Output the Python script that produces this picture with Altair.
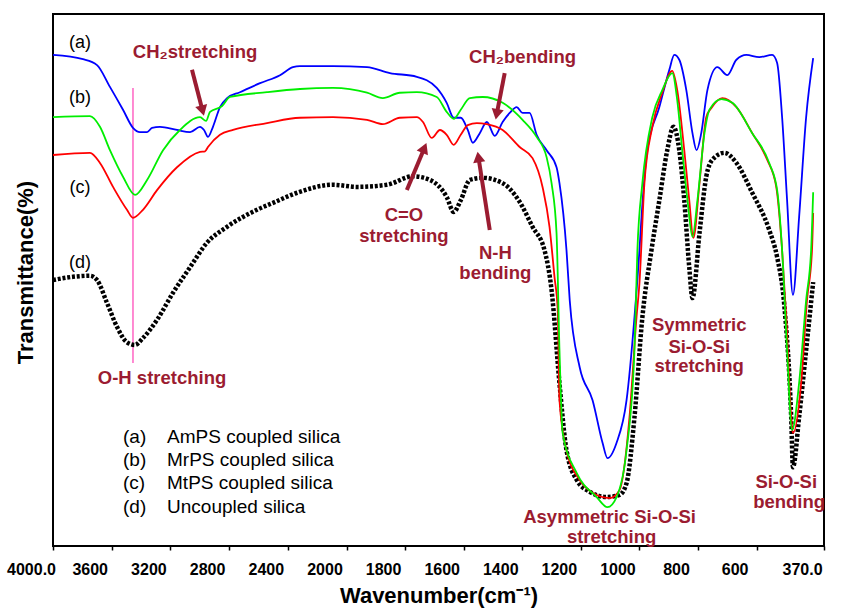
import altair as alt
import pandas as pd

# ---- FTIR spectra: wavenumber (cm-1) vs transmittance (%) ----
# (a) AmPS coupled silica
wn_a = [4000, 3796, 3700, 3612, 3523, 3455, 3407, 3359, 3325, 3271, 3155, 3066, 2998, 2971, 2944,
        2910, 2862, 2814, 2726, 2589, 2453, 2365, 2317, 2092, 1930, 1852, 1760, 1692, 1658, 1634,
        1610, 1586, 1569, 1545, 1521, 1494, 1467, 1443, 1419, 1399, 1375, 1351, 1317, 1283, 1273,
        1249, 1238, 1204, 1160, 1126, 1109, 1078, 1044, 1017, 1000, 993, 973, 932, 898, 881,
        864, 840, 819, 805, 789, 768, 734, 700, 669, 635, 591, 547, 530, 513, 496,
        476, 455, 431, 407]
t_a = [92.3, 91.5, 90.4, 86.3, 82.0, 78.6, 77.8, 77.8, 78.6, 78.8, 78.2, 77.8, 78.8, 78.2, 76.9,
       78.8, 82.5, 84.2, 85.3, 87.0, 88.5, 90.0, 90.2, 90.2, 90.0, 88.9, 88.2, 86.1, 83.3, 80.5,
       80.5, 78.2, 75.8, 77.6, 79.7, 77.1, 79.7, 81.4, 82.5, 81.4, 81.4, 77.3, 74.4, 71.2, 68.2,
       55.6, 46.2, 33.6, 27.4, 19.4, 16.5, 19.4, 27.4, 43.0, 55.6, 61.8, 74.4, 82.5, 89.5, 92.3,
       91.4, 85.7, 77.6, 74.4, 77.6, 85.7, 90.0, 88.5, 91.4, 92.3, 91.9, 92.3, 90.8, 80.6, 65.0,
       47.2, 61.8, 80.6, 91.7]

# (b) MrPS coupled silica
wn_b = [4000, 3748, 3680, 3612, 3523, 3441, 3359, 3250, 3135, 2998, 2957, 2930, 2848, 2794, 2542,
        2317, 2092, 1930, 1876, 1818, 1760, 1692, 1658, 1634, 1610, 1579, 1535, 1467, 1399, 1351,
        1317, 1300, 1283, 1273, 1262, 1214, 1146, 1109, 1078, 1044, 1017, 1007, 990, 956, 922,
        888, 871, 854, 836, 819, 802, 778, 761, 720, 683, 615, 557, 530, 513, 496,
        479, 455, 431, 414, 407]
t_b = [80.6, 80.8, 78.8, 74.4, 69.4, 66.0, 68.8, 74.4, 78.2, 80.6, 79.9, 81.6, 82.7, 84.4, 85.3,
       85.9, 86.1, 85.2, 84.2, 85.2, 85.3, 84.4, 81.6, 80.3, 82.0, 84.2, 84.4, 83.3, 80.1, 76.9,
       73.1, 68.2, 58.8, 36.8, 21.2, 13.7, 9.2, 7.3, 9.2, 18.0, 36.8, 55.6, 68.2, 80.6, 85.7,
       88.9, 83.8, 74.4, 65.0, 58.1, 65.0, 77.6, 82.0, 84.0, 83.3, 77.6, 72.0, 66.9, 55.6, 36.8,
       21.8, 30.6, 46.2, 55.6, 66.5]

# (c) MtPS coupled silica
wn_c = [4000, 3748, 3680, 3591, 3496, 3455, 3387, 3291, 3155, 2998, 2964, 2944, 2862, 2773, 2542,
        2317, 2092, 1930, 1876, 1818, 1760, 1739, 1709, 1681, 1658, 1634, 1610, 1586, 1555, 1521,
        1467, 1409, 1365, 1330, 1307, 1290, 1279, 1273, 1249, 1204, 1160, 1102, 1068, 1034, 1010,
        1000, 983, 956, 922, 888, 871, 847, 830, 816, 795, 772, 755, 717, 669, 615,
        564, 533, 513, 499, 482, 476, 448, 428, 411, 407]
t_c = [73.5, 73.9, 72.0, 67.5, 63.2, 61.7, 63.2, 66.9, 71.2, 74.1, 74.2, 75.0, 77.3, 78.2, 79.5,
       80.5, 80.6, 80.1, 79.3, 80.5, 80.6, 79.7, 76.7, 78.2, 77.3, 75.4, 77.3, 79.1, 79.5, 79.3,
       78.2, 75.0, 72.9, 67.3, 60.0, 50.6, 44.4, 27.4, 18.0, 12.4, 10.0, 9.0, 10.5, 24.2, 43.0,
       49.4, 68.2, 78.8, 85.2, 89.3, 85.7, 74.4, 65.0, 57.9, 68.2, 80.6, 82.3, 84.2, 82.5, 77.6,
       72.6, 67.5, 55.6, 43.0, 24.2, 21.2, 30.6, 46.2, 55.6, 62.6]

# (d) Uncoupled silica
wn_d = [4000, 3864, 3748, 3700, 3632, 3564, 3496, 3441, 3387, 3291, 3182, 3066, 2951, 2814, 2610,
        2501, 2337, 2092, 1964, 1862, 1773, 1715, 1658, 1634, 1610, 1579, 1535, 1467, 1409, 1365,
        1324, 1300, 1273, 1249, 1214, 1170, 1112, 1068, 1044, 1017, 990, 959, 932, 905, 884,
        864, 847, 830, 819, 795, 772, 751, 710, 669, 615, 557, 530, 506, 482, 476,
        455, 431, 407]
t_d = [50.0, 50.6, 50.8, 50.0, 45.7, 41.2, 38.3, 37.8, 39.1, 42.5, 47.6, 52.4, 57.0, 60.0, 63.2,
       64.5, 66.4, 67.9, 67.5, 67.9, 69.5, 68.8, 65.6, 62.8, 65.0, 68.8, 69.2, 68.2, 64.7, 60.0,
       55.6, 48.1, 30.6, 18.0, 12.4, 10.2, 9.2, 9.6, 11.8, 24.2, 43.0, 55.6, 65.0, 74.4, 78.8,
       74.4, 65.0, 52.4, 46.6, 58.8, 69.4, 72.6, 73.9, 72.0, 66.4, 59.4, 54.3, 45.5, 24.2, 14.8,
       24.2, 36.8, 49.6]

# x-axis tick values (scale is expanded 2x below 2000 cm-1)
tick_values = [4000, 3600, 3200, 2800, 2400, 2000, 1800, 1600, 1400, 1200, 1000, 800, 600, 370]

# band assignments: text, wavenumber, transmittance
band_text = ["CH\u2082stretching", "CH\u2082bending", "C=O", "stretching", "N-H", "bending",
             "O-H stretching", "Symmetric", "Si-O-Si", "stretching",
             "Asymmetric Si-O-Si", "stretching", "Si-O-Si", "bending"]
band_wn = [3032, 1399, 1804, 1804, 1492, 1492, 3257, 796, 796, 796, 1102, 1095, 499, 489]
band_t = [92.9, 91.9, 62.2, 58.3, 55.1, 51.3, 31.6, 41.5, 37.4, 33.8, 5.5, 1.7, 12.0, 8.3]

# arrows: tail and tip positions, head rotation (degrees)
arrow_tail_wn = [3053, 1460, 1794, 1511]
arrow_tail_t = [89.5, 88.9, 66.9, 59.4]
arrow_tip_wn = [2971, 1491, 1726, 1555]
arrow_tip_t = [80.8, 80.1, 75.9, 75.0]
arrow_angle = [165, 191, 23, 351]

# O-H band marker line
oh_wn = 3455
oh_t_top, oh_t_bottom = 86.1, 34.4

# curve tags
tag_text = ["(a)", "(b)", "(c)", "(d)"]
tag_wn = [3816, 3816, 3816, 3816]
tag_t = [94.5, 84.2, 67.3, 53.2]

# key text block
key_tags = ["(a)", "(b)", "(c)", "(d)"]
key_names = ["AmPS coupled silica", "MrPS coupled silica", "MtPS coupled silica", "Uncoupled silica"]
key_t = [20.5, 16.2, 11.8, 7.3]
key_tag_wn = 3523
key_name_wn = 3223

FONT = "Liberation Sans"
NOTE_RED = "#9b1c31"

W, H = 771, 532

x_scale = alt.Scale(domain=[4000, 2000, 370], range=[0, 293.5, W], nice=False, zero=False)
y_scale = alt.Scale(domain=[0, 100], nice=False, zero=False)

x_axis = alt.Axis(
    values=tick_values,
    labelExpr="datum.value == 4000 || datum.value == 370 ? format(datum.value, '.1f') : format(datum.value, 'd')",
    title="Wavenumber(cm\u207b\u00b9)",
    domain=False, grid=False,
    ticks=True, tickSize=4, tickWidth=1.5, tickColor="black",
    labelFont=FONT, labelFontSize=16, labelFontWeight="bold", labelColor="black",
    labelPadding=11, labelOffset=-22, labelFlush=False, labelOverlap=False,
    titleFont=FONT, titleFontSize=22, titleFontWeight="bold", titleColor="black",
    titlePadding=8,
)
y_axis = alt.Axis(
    title="Transmittance(%)",
    domain=False, grid=False, ticks=False, labels=False,
    titleFont=FONT, titleFontSize=22, titleFontWeight="bold", titleColor="black",
    titlePadding=16, titleY=258,
)


def X(field="wavenumber"):
    return alt.X(f"{field}:Q", scale=x_scale, axis=x_axis)


def Y(field="transmittance"):
    return alt.Y(f"{field}:Q", scale=y_scale, axis=y_axis)


def spectrum(wn, t, color, dashed=False):
    df = pd.DataFrame({"wavenumber": wn, "transmittance": t})
    if dashed:
        mark = alt.Chart(df).mark_line(color=color, strokeWidth=4.5, strokeDash=[3, 1.8],
                                       strokeCap="butt", interpolate="monotone")
    else:
        mark = alt.Chart(df).mark_line(color=color, strokeWidth=1.8, interpolate="monotone")
    return mark.encode(x=X(), y=Y())


curve_d = spectrum(wn_d, t_d, "black", dashed=True)
curve_a = spectrum(wn_a, t_a, "#0000ff")
curve_c = spectrum(wn_c, t_c, "#ff0000")
curve_b = spectrum(wn_b, t_b, "#00ee00")

oh_df = pd.DataFrame({"wavenumber": [oh_wn], "transmittance": [oh_t_top],
                      "transmittance2": [oh_t_bottom]})
oh_line = alt.Chart(oh_df).mark_rule(color="#ff6ec7", strokeWidth=1.6).encode(
    x=X(), y=Y(), y2="transmittance2:Q"
)

# arrow shafts stop short of the tip; heads sit just behind it
shaft_end = 0.85
head_pos = 0.88
arrow_df = pd.DataFrame({
    "wavenumber": arrow_tail_wn,
    "transmittance": arrow_tail_t,
    "wavenumber2": [a + shaft_end * (b - a) for a, b in zip(arrow_tail_wn, arrow_tip_wn)],
    "transmittance2": [a + shaft_end * (b - a) for a, b in zip(arrow_tail_t, arrow_tip_t)],
    "head_wn": [a + head_pos * (b - a) for a, b in zip(arrow_tail_wn, arrow_tip_wn)],
    "head_t": [a + head_pos * (b - a) for a, b in zip(arrow_tail_t, arrow_tip_t)],
    "angle": arrow_angle,
})
arrow_shafts = alt.Chart(arrow_df).mark_rule(color=NOTE_RED, strokeWidth=4).encode(
    x=X(), y=Y(), x2="wavenumber2:Q", y2="transmittance2:Q"
)
arrow_heads = alt.Chart(arrow_df).mark_point(
    shape="triangle-up", filled=True, color=NOTE_RED, opacity=1, size=150
).encode(
    x=X("head_wn"), y=Y("head_t"), angle=alt.Angle("angle:Q", scale=None)
)

band_df = pd.DataFrame({"wavenumber": band_wn, "transmittance": band_t, "label": band_text})
band_labels = alt.Chart(band_df).mark_text(
    font=FONT, fontSize=18.5, fontWeight="bold", color=NOTE_RED, align="center", baseline="middle"
).encode(x=X(), y=Y(), text="label:N")

tag_df = pd.DataFrame({"wavenumber": tag_wn, "transmittance": tag_t, "label": tag_text})
tag_labels = alt.Chart(tag_df).mark_text(
    font=FONT, fontSize=18, color="black", align="center", baseline="middle"
).encode(x=X(), y=Y(), text="label:N")

key_df = pd.DataFrame({
    "wavenumber": [key_tag_wn] * len(key_tags) + [key_name_wn] * len(key_names),
    "transmittance": key_t + key_t,
    "label": key_tags + key_names,
})
key_labels = alt.Chart(key_df).mark_text(
    font=FONT, fontSize=19, color="black", align="left", baseline="middle"
).encode(x=X(), y=Y(), text="label:N")

chart = alt.layer(
    oh_line, curve_d, curve_a, curve_c, curve_b,
    arrow_shafts, arrow_heads, band_labels, tag_labels, key_labels,
).properties(
    width=W, height=H,
    autosize=alt.AutoSizeParams(type="none"),
    padding={"left": 53, "top": 14, "right": 19, "bottom": 66},
    background="white",
).configure_view(
    stroke="black", strokeWidth=2
)

chart.save("out.html", embed_options={"renderer": "svg", "actions": False})
